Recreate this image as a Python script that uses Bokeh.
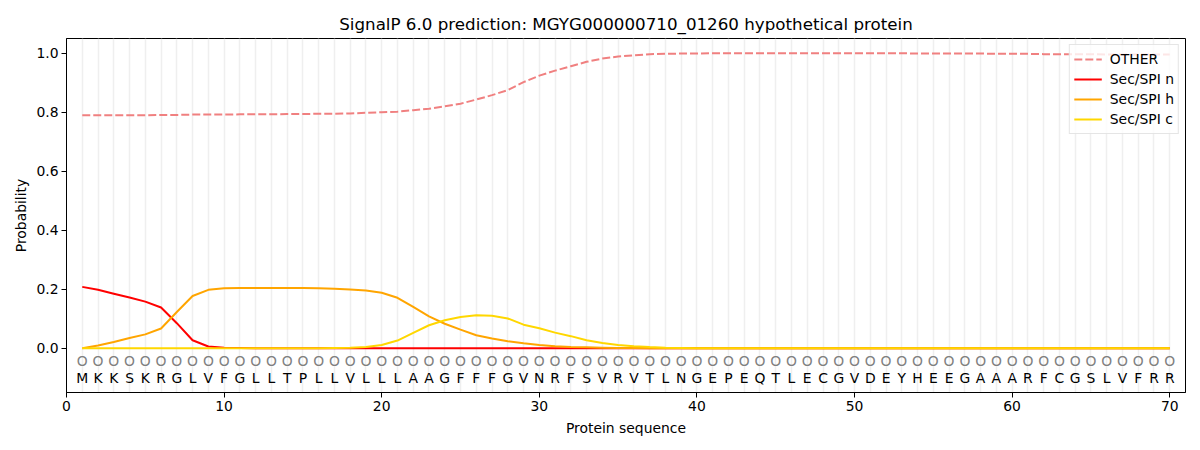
from bokeh.plotting import figure
from bokeh.models import Range1d, FixedTicker, PrintfTickFormatter, Legend, LegendItem, ColumnDataSource
from bokeh.core.properties import value
from bokeh.embed import file_html
from bokeh.resources import INLINE

sequence = list("MKKSKRGLVFGLLTPLLVLLLAAGFFFGVNRFSVRVTLNGEPEQTLECGVDEYHEEGAAARFCGSLVFRR")
positions = list(range(1, len(sequence) + 1))
labels = ["O"] * len(sequence)

other = [0.790, 0.790, 0.790, 0.790, 0.790, 0.791, 0.791, 0.792, 0.792, 0.792,
         0.793, 0.793, 0.793, 0.794, 0.794, 0.795, 0.795, 0.796, 0.798, 0.800,
         0.802, 0.807, 0.812, 0.820, 0.829, 0.843, 0.858, 0.875, 0.902, 0.924,
         0.941, 0.956, 0.971, 0.982, 0.989, 0.993, 0.997, 0.998, 0.999, 0.999,
         1.000, 1.000, 1.000, 1.000, 1.000, 1.000, 1.000, 1.000, 1.000, 1.000,
         1.000, 1.000, 1.000, 0.999, 0.999, 0.999, 0.999, 0.999, 0.998, 0.998,
         0.998, 0.997, 0.997, 0.997, 0.997, 0.996, 0.996, 0.996, 0.996, 0.996]
sec_n = [0.208, 0.198, 0.185, 0.172, 0.158, 0.138, 0.085, 0.027, 0.006, 0.002,
         0.001, 0.000, 0.000, 0.000, 0.000, 0.000, 0.000, 0.000, 0.000, 0.000,
         0.000, 0.000, 0.000, 0.000, 0.000, 0.000, 0.000, 0.000, 0.000, 0.000,
         0.000, 0.000, 0.000, 0.000, 0.000, 0.000, 0.000, 0.000, 0.000, 0.000,
         0.000, 0.000, 0.000, 0.000, 0.000, 0.000, 0.000, 0.000, 0.000, 0.000,
         0.000, 0.000, 0.000, 0.000, 0.000, 0.000, 0.000, 0.000, 0.000, 0.000,
         0.000, 0.000, 0.000, 0.000, 0.000, 0.000, 0.000, 0.000, 0.000, 0.000]
sec_h = [0.000, 0.009, 0.021, 0.035, 0.047, 0.067, 0.123, 0.177, 0.198, 0.203,
         0.204, 0.2045, 0.2045, 0.204, 0.204, 0.203, 0.202, 0.199, 0.196, 0.188,
         0.171, 0.140, 0.108, 0.083, 0.063, 0.044, 0.033, 0.024, 0.017, 0.011,
         0.007, 0.004, 0.003, 0.002, 0.001, 0.001, 0.000, 0.000, 0.000, 0.000,
         0.000, 0.000, 0.000, 0.000, 0.000, 0.000, 0.000, 0.000, 0.000, 0.000,
         0.000, 0.000, 0.000, 0.000, 0.000, 0.000, 0.000, 0.000, 0.000, 0.000,
         0.000, 0.000, 0.000, 0.000, 0.000, 0.000, 0.000, 0.000, 0.000, 0.000]
sec_c = [0.000, 0.000, 0.000, 0.000, 0.000, 0.000, 0.000, 0.000, 0.000, 0.000,
         0.000, 0.000, 0.000, 0.000, 0.000, 0.000, 0.001, 0.002, 0.004, 0.011,
         0.026, 0.052, 0.078, 0.095, 0.106, 0.112, 0.110, 0.101, 0.080, 0.068,
         0.053, 0.041, 0.027, 0.018, 0.011, 0.007, 0.004, 0.002, 0.001, 0.000,
         0.000, 0.000, 0.000, 0.000, 0.000, 0.000, 0.000, 0.000, 0.000, 0.000,
         0.000, 0.000, 0.000, 0.000, 0.000, 0.000, 0.000, 0.000, 0.000, 0.000,
         0.000, 0.000, 0.000, 0.000, 0.000, 0.000, 0.000, 0.000, 0.000, 0.000]

x_ticks = [0, 10, 20, 30, 40, 50, 60, 70]
y_ticks = [0.0, 0.2, 0.4, 0.6, 0.8, 1.0]

FONT = "DejaVu Sans"

p = figure(width=1192, height=442, output_backend="svg", toolbar_location=None,
           x_range=Range1d(0, 71), y_range=Range1d(-0.15, 1.05),
           min_border_left=66, min_border_right=7, min_border_top=38, min_border_bottom=50,
           title="SignalP 6.0 prediction: MGYG000000710_01260 hypothetical protein")

p.title.align = "center"
p.title.text_font = FONT
p.title.text_font_size = "16.7px"
p.title.text_font_style = "normal"
p.title.text_color = "black"

p.outline_line_color = "black"
p.outline_line_width = 1
p.outline_line_alpha = 1

p.xgrid.ticker = FixedTicker(ticks=positions)
p.xgrid.grid_line_color = "#efefef"
p.xgrid.grid_line_width = 1.5
p.ygrid.grid_line_color = None

for ax in (p.xaxis, p.yaxis):
    ax.axis_line_color = "black"
    ax.major_tick_line_color = "black"
    ax.minor_tick_line_color = None
    ax.major_tick_out = 5
    ax.major_tick_in = 0
    ax.major_label_text_font = FONT
    ax.major_label_text_font_size = "13.9px"
    ax.major_label_text_color = "black"
    ax.major_label_standoff = 3
    ax.axis_label_text_font = FONT
    ax.axis_label_text_font_size = "13.9px"
    ax.axis_label_text_font_style = "normal"
    ax.axis_label_text_color = "black"

p.xaxis.ticker = FixedTicker(ticks=x_ticks)
p.yaxis.ticker = FixedTicker(ticks=y_ticks)
p.yaxis.formatter = PrintfTickFormatter(format="%.1f")
p.xaxis.axis_label = "Protein sequence"
p.yaxis.axis_label = "Probability"
p.xaxis.axis_label_standoff = 6
p.yaxis.axis_label_standoff = 4

src = ColumnDataSource(dict(x=positions, other=other, n=sec_n, h=sec_h, c=sec_c,
                            seq=sequence, lab=labels))

r_other = p.line("x", "other", source=src, line_color="#f08080", line_width=2, line_dash="8 3")
r_n = p.line("x", "n", source=src, line_color="#ff0000", line_width=2)
r_h = p.line("x", "h", source=src, line_color="#ffa500", line_width=2)
r_c = p.line("x", "c", source=src, line_color="#ffd700", line_width=2)

LABEL_Y = -0.044
SEQ_Y = -0.102
src.data["ly"] = [LABEL_Y] * len(positions)
src.data["sy"] = [SEQ_Y] * len(positions)

p.text("x", "ly", text="lab", source=src, text_font=value(FONT), text_font_size=value("13.9px"),
       text_color="#808080", text_align="center", text_baseline="middle")
p.text("x", "sy", text="seq", source=src, text_font=value(FONT), text_font_size=value("13.9px"),
       text_color="black", text_align="center", text_baseline="middle")

legend = Legend(items=[LegendItem(label="OTHER", renderers=[r_other]),
                       LegendItem(label="Sec/SPI n", renderers=[r_n]),
                       LegendItem(label="Sec/SPI h", renderers=[r_h]),
                       LegendItem(label="Sec/SPI c", renderers=[r_c])],
                location="top_right")
legend.margin = 6
legend.padding = 4
legend.spacing = 0
legend.label_height = 20
legend.glyph_height = 14
legend.glyph_width = 28
legend.label_standoff = 8
legend.label_text_font = FONT
legend.label_text_font_size = "13.9px"
legend.label_text_color = "black"
legend.border_line_color = "#cccccc"
legend.border_line_width = 1
legend.background_fill_color = "white"
legend.background_fill_alpha = 0.8
p.add_layout(legend, "center")

open("out.html", "w").write(file_html(p, INLINE))
